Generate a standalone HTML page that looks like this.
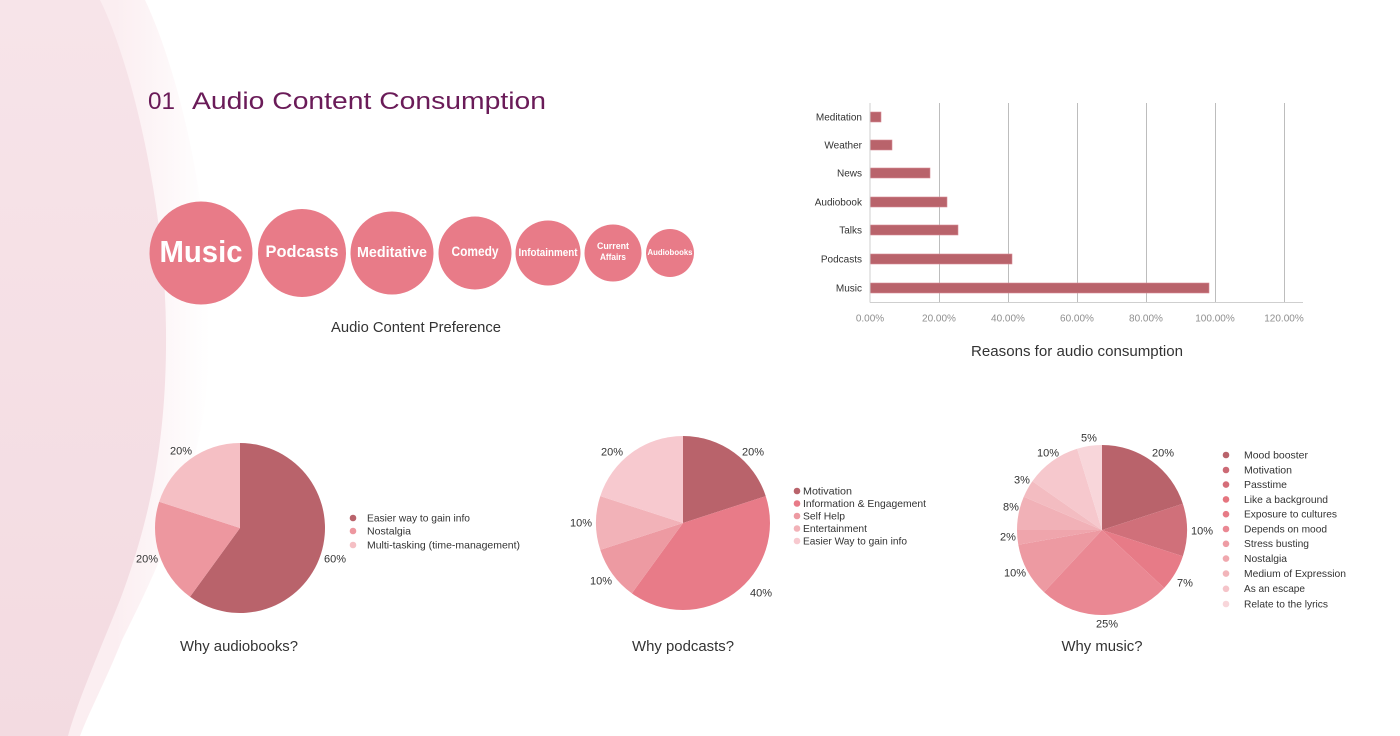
<!DOCTYPE html>
<html><head><meta charset="utf-8"><style>
html,body{margin:0;padding:0;background:#fff;}
svg{display:block;}
text{font-family:"Liberation Sans",sans-serif;}
</style></head><body>
<svg width="1400" height="736" viewBox="0 0 1400 736" xmlns="http://www.w3.org/2000/svg">
<defs>
<linearGradient id="band" x1="0" y1="0" x2="1" y2="0">
<stop offset="0.55" stop-color="#fbeef1"/>
<stop offset="1" stop-color="#ffffff"/>
</linearGradient>
<linearGradient id="dk" x1="0" y1="0" x2="0" y2="1">
<stop offset="0" stop-color="#f7e4e9"/>
<stop offset="1" stop-color="#f3dbe1"/>
</linearGradient>
</defs>
<rect width="1400" height="736" fill="#fff"/>
<!-- background shapes -->
<path d="M0,0 H145 C178,70 210,200 210,330 C210,460 162,560 122,640 C106,680 90,710 80,736 H0 Z" fill="url(#band)"/>
<path d="M0,0 H100 C130,60 165,200 166,330 C167,440 150,520 120,600 C100,650 78,700 68,736 H0 Z" fill="url(#dk)"/>

<!-- title -->
<text x="148" y="109" font-size="24" fill="#6a1b58" textLength="27" lengthAdjust="spacingAndGlyphs">01</text>
<text x="192" y="109" font-size="24" fill="#6a1b58" textLength="354" lengthAdjust="spacingAndGlyphs">Audio Content Consumption</text>

<!-- bubbles -->
<g fill="#e87b88">
<circle cx="201" cy="253" r="51.5"/>
<circle cx="302" cy="253" r="44"/>
<circle cx="392" cy="253" r="41.5"/>
<circle cx="475" cy="253" r="36.5"/>
<circle cx="548" cy="253" r="32.5"/>
<circle cx="613" cy="253" r="28.5"/>
<circle cx="670" cy="253" r="24"/>
</g>
<g fill="#fff" font-weight="bold" text-anchor="middle">
<text x="201" y="262" font-size="31" textLength="83" lengthAdjust="spacingAndGlyphs">Music</text>
<text x="302" y="257" font-size="17" textLength="73" lengthAdjust="spacingAndGlyphs">Podcasts</text>
<text x="392" y="257" font-size="15" textLength="70" lengthAdjust="spacingAndGlyphs">Meditative</text>
<text x="475" y="256" font-size="14" textLength="47" lengthAdjust="spacingAndGlyphs">Comedy</text>
<text x="548" y="256" font-size="11" textLength="59" lengthAdjust="spacingAndGlyphs">Infotainment</text>
<text x="613" y="249" font-size="9.5" textLength="32" lengthAdjust="spacingAndGlyphs">Current</text>
<text x="613" y="260" font-size="9.5" textLength="26" lengthAdjust="spacingAndGlyphs">Affairs</text>
<text x="670" y="255" font-size="8.5" textLength="45" lengthAdjust="spacingAndGlyphs">Audiobooks</text>
</g>
<text x="416" y="332" font-size="15" fill="#333" text-anchor="middle" textLength="170" lengthAdjust="spacingAndGlyphs">Audio Content Preference</text>

<!-- bar chart -->
<g stroke="#bdbdbd" stroke-width="1">
<line x1="939.5" y1="103" x2="939.5" y2="302"/>
<line x1="1008.5" y1="103" x2="1008.5" y2="302"/>
<line x1="1077.5" y1="103" x2="1077.5" y2="302"/>
<line x1="1146.5" y1="103" x2="1146.5" y2="302"/>
<line x1="1215.5" y1="103" x2="1215.5" y2="302"/>
<line x1="1284.5" y1="103" x2="1284.5" y2="302"/>
</g>
<g fill="#b9636b" stroke="#d88c94" stroke-width="0.6">
<rect x="870" y="112" width="11" height="10"/>
<rect x="870" y="140" width="22" height="10"/>
<rect x="870" y="168" width="60" height="10"/>
<rect x="870" y="197" width="77" height="10"/>
<rect x="870" y="225" width="88" height="10"/>
<rect x="870" y="254" width="142" height="10"/>
<rect x="870" y="283" width="339" height="10"/>
</g>
<line x1="870" y1="103" x2="870" y2="302.5" stroke="#cfcfcf" stroke-width="1"/>
<line x1="870" y1="302.5" x2="1303" y2="302.5" stroke="#cfcfcf" stroke-width="1"/>
<g font-size="10" fill="#333" text-anchor="end">
<text x="862" y="120.5">Meditation</text>
<text x="862" y="148.5">Weather</text>
<text x="862" y="176.5">News</text>
<text x="862" y="205.5">Audiobook</text>
<text x="862" y="233.5">Talks</text>
<text x="862" y="262.5">Podcasts</text>
<text x="862" y="291.5">Music</text>
</g>
<g font-size="10" fill="#8f8f8f" text-anchor="middle">
<text x="870" y="321.5">0.00%</text>
<text x="939" y="321.5">20.00%</text>
<text x="1008" y="321.5">40.00%</text>
<text x="1077" y="321.5">60.00%</text>
<text x="1146" y="321.5">80.00%</text>
<text x="1215" y="321.5">100.00%</text>
<text x="1284" y="321.5">120.00%</text>
</g>
<text x="1077" y="356" font-size="15" fill="#333" text-anchor="middle" textLength="212" lengthAdjust="spacingAndGlyphs">Reasons for audio consumption</text>

<!-- Audiobooks pie -->
<path d="M240,528 L240,443 A85,85 0 1 1 190.04,596.77 Z" fill="#b9636b"/>
<path d="M240,528 L190.04,596.77 A85,85 0 0 1 159.16,501.73 Z" fill="#ed979f"/>
<path d="M240,528 L159.16,501.73 A85,85 0 0 1 240,443 Z" fill="#f5bfc4"/>
<g font-size="11" fill="#333" text-anchor="middle">
<text x="181" y="454.5">20%</text>
<text x="147" y="562.5">20%</text>
<text x="335" y="562.5">60%</text>
</g>
<circle cx="353" cy="518" r="3.3" fill="#b9636b"/>
<circle cx="353" cy="531" r="3.3" fill="#ed979f"/>
<circle cx="353" cy="545" r="3.3" fill="#f5bfc4"/>
<g font-size="10.5" fill="#333">
<text x="367" y="521.5" textLength="103" lengthAdjust="spacingAndGlyphs">Easier way to gain info</text>
<text x="367" y="534.5" textLength="44" lengthAdjust="spacingAndGlyphs">Nostalgia</text>
<text x="367" y="548.5" textLength="153" lengthAdjust="spacingAndGlyphs">Multi-tasking (time-management)</text>
</g>
<text x="239" y="651" font-size="15" fill="#333" text-anchor="middle" textLength="118" lengthAdjust="spacingAndGlyphs">Why audiobooks?</text>

<!-- Podcasts pie -->
<path d="M683,523 L683,436 A87,87 0 0 1 765.74,496.12 Z" fill="#b9636b"/>
<path d="M683,523 L765.74,496.12 A87,87 0 0 1 631.86,593.38 Z" fill="#e87b88"/>
<path d="M683,523 L631.86,593.38 A87,87 0 0 1 600.26,549.88 Z" fill="#ed9aa2"/>
<path d="M683,523 L600.26,549.88 A87,87 0 0 1 600.26,496.12 Z" fill="#f2b2b8"/>
<path d="M683,523 L600.26,496.12 A87,87 0 0 1 683,436 Z" fill="#f7c9cf"/>
<g font-size="11" fill="#333" text-anchor="middle">
<text x="753" y="455.5">20%</text>
<text x="612" y="455.5">20%</text>
<text x="581" y="526.5">10%</text>
<text x="601" y="584.5">10%</text>
<text x="761" y="596.5">40%</text>
</g>
<circle cx="797" cy="491" r="3.3" fill="#b9636b"/>
<circle cx="797" cy="503.5" r="3.3" fill="#e87b88"/>
<circle cx="797" cy="516" r="3.3" fill="#ed9aa2"/>
<circle cx="797" cy="528.5" r="3.3" fill="#f2b2b8"/>
<circle cx="797" cy="541" r="3.3" fill="#f7c9cf"/>
<g font-size="10.5" fill="#333">
<text x="803" y="494.5" textLength="49" lengthAdjust="spacingAndGlyphs">Motivation</text>
<text x="803" y="507" textLength="123" lengthAdjust="spacingAndGlyphs">Information &amp; Engagement</text>
<text x="803" y="519.5" textLength="42" lengthAdjust="spacingAndGlyphs">Self Help</text>
<text x="803" y="532" textLength="64" lengthAdjust="spacingAndGlyphs">Entertainment</text>
<text x="803" y="544.5" textLength="104" lengthAdjust="spacingAndGlyphs">Easier Way to gain info</text>
</g>
<text x="683" y="651" font-size="15" fill="#333" text-anchor="middle" textLength="102" lengthAdjust="spacingAndGlyphs">Why podcasts?</text>

<!-- Music pie -->
<path d="M1102,530 L1102,445 A85,85 0 0 1 1182.84,503.73 Z" fill="#b9636b"/>
<path d="M1102,530 L1182.84,503.73 A85,85 0 0 1 1182.84,556.27 Z" fill="#d0707a"/>
<path d="M1102,530 L1182.84,556.27 A85,85 0 0 1 1164.17,587.97 Z" fill="#e77b87"/>
<path d="M1102,530 L1164.17,587.97 A85,85 0 0 1 1044.03,592.17 Z" fill="#ea8893"/>
<path d="M1102,530 L1044.03,592.17 A85,85 0 0 1 1018.29,544.76 Z" fill="#ed9aa2"/>
<path d="M1102,530 L1018.29,544.76 A85,85 0 0 1 1017,530 Z" fill="#efa5ac"/>
<path d="M1102,530 L1017,530 A85,85 0 0 1 1023.76,496.79 Z" fill="#f1b1b7"/>
<path d="M1102,530 L1023.76,496.79 A85,85 0 0 1 1032.37,481.24 Z" fill="#f3bcc1"/>
<path d="M1102,530 L1032.37,481.24 A85,85 0 0 1 1077.15,448.71 Z" fill="#f6c8cd"/>
<path d="M1102,530 L1077.15,448.71 A85,85 0 0 1 1102,445 Z" fill="#f8d6da"/>
<g font-size="11" fill="#333" text-anchor="middle">
<text x="1089" y="441.5">5%</text>
<text x="1163" y="456.5">20%</text>
<text x="1048" y="456.5">10%</text>
<text x="1022" y="483.5">3%</text>
<text x="1011" y="510.5">8%</text>
<text x="1008" y="540.5">2%</text>
<text x="1015" y="576.5">10%</text>
<text x="1202" y="534.5">10%</text>
<text x="1185" y="586.5">7%</text>
<text x="1107" y="627.5">25%</text>
</g>
<g>
<circle cx="1226" cy="455" r="3.3" fill="#b9636b"/>
<circle cx="1226" cy="470" r="3.3" fill="#cc6a75"/>
<circle cx="1226" cy="484.6" r="3.3" fill="#d56e79"/>
<circle cx="1226" cy="499.4" r="3.3" fill="#e5757f"/>
<circle cx="1226" cy="514.2" r="3.3" fill="#e77b87"/>
<circle cx="1226" cy="529" r="3.3" fill="#ea8893"/>
<circle cx="1226" cy="543.8" r="3.3" fill="#ee9ca4"/>
<circle cx="1226" cy="558.6" r="3.3" fill="#f0a8ae"/>
<circle cx="1226" cy="573.6" r="3.3" fill="#f2b5ba"/>
<circle cx="1226" cy="588.8" r="3.3" fill="#f5c4c9"/>
<circle cx="1226" cy="604" r="3.3" fill="#f8d6da"/>
</g>
<g font-size="10.5" fill="#333">
<text x="1244" y="458.5" textLength="64" lengthAdjust="spacingAndGlyphs">Mood booster</text>
<text x="1244" y="473.5" textLength="48" lengthAdjust="spacingAndGlyphs">Motivation</text>
<text x="1244" y="488" textLength="43" lengthAdjust="spacingAndGlyphs">Passtime</text>
<text x="1244" y="503" textLength="84" lengthAdjust="spacingAndGlyphs">Like a background</text>
<text x="1244" y="517.5" textLength="93" lengthAdjust="spacingAndGlyphs">Exposure to cultures</text>
<text x="1244" y="532.5" textLength="83" lengthAdjust="spacingAndGlyphs">Depends on mood</text>
<text x="1244" y="547" textLength="65" lengthAdjust="spacingAndGlyphs">Stress busting</text>
<text x="1244" y="562" textLength="43" lengthAdjust="spacingAndGlyphs">Nostalgia</text>
<text x="1244" y="577" textLength="102" lengthAdjust="spacingAndGlyphs">Medium of Expression</text>
<text x="1244" y="592" textLength="61" lengthAdjust="spacingAndGlyphs">As an escape</text>
<text x="1244" y="607.5" textLength="84" lengthAdjust="spacingAndGlyphs">Relate to the lyrics</text>
</g>
<text x="1102" y="651" font-size="15" fill="#333" text-anchor="middle" textLength="81" lengthAdjust="spacingAndGlyphs">Why music?</text>
</svg>
</body></html>
